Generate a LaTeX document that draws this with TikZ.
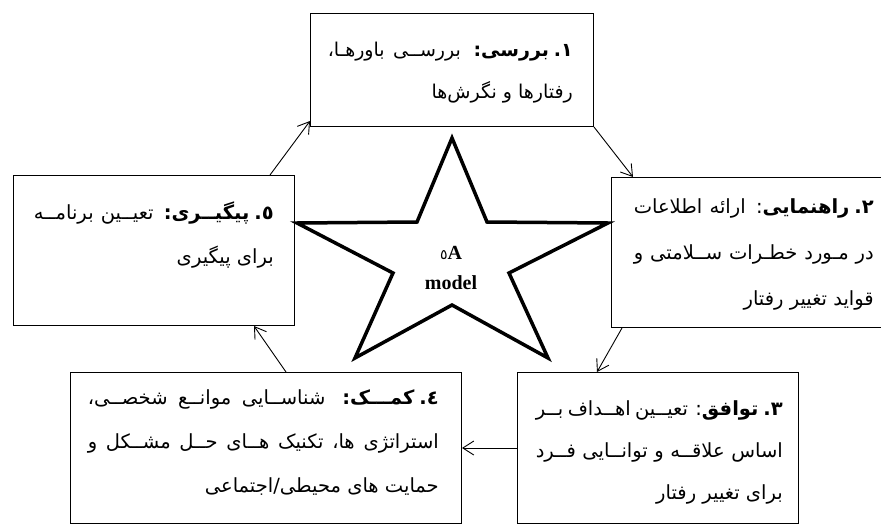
\documentclass[tikz,border=0pt]{standalone}
\usepackage{fontspec}
\setmainfont{Liberation Serif}
\newfontfamily\fa[Script=Arabic]{DejaVu Sans}
\TeXXeTstate=1
\usetikzlibrary{arrows.meta,calc}
\begin{document}
\begin{tikzpicture}[x=1pt,y=-1pt,
  box/.style={draw, line width=1pt, inner sep=0pt, anchor=north west},
  txt/.style={inner sep=0pt, align=right, font=\fa\fontsize{19.5}{44}\selectfont, anchor=base east},
  arr/.style={-{Straight Barb[length=11pt,width=14pt]}, line width=0.9pt},
  starline/.style={line width=3.5pt, line join=miter},
]
\useasboundingbox (0,0) rectangle (881,525);

% boxes
\node[box, minimum width=283, minimum height=113] (b1) at (310,13) {};
\node[box, minimum width=282, minimum height=150] (b2) at (611,177) {};
\node[box, minimum width=281, minimum height=151] (b3) at (517,372) {};
\node[box, minimum width=391, minimum height=151] (b4) at (70,372) {};
\node[box, minimum width=281, minimum height=150] (b5) at (13,175) {};

% texts (anchor = baseline of last line)
\node[txt, font=\fa\fontsize{19}{42}\selectfont] (t1) at ($(b1.north east)+(-21,85)$) {%
\makebox[245pt][s]{\beginR{\bfseries ١.\kern5pt بررسی:} بررســی باورهـا،\endR}\\
\beginR رفتارها و نگرش‌ها\endR};
\node[txt, font=\fa\fontsize{19.5}{46}\selectfont] (t2) at ($(b2.north east)+(-20,128)$) {%
\makebox[240pt][s]{\beginR{\bfseries ٢.\kern5pt راهنمایی}: ارائه اطلاعات\endR}\\
\makebox[240pt][s]{\beginR در مـورد خطـرات ســلامتی و\endR}\\
\beginR قواید تغییر رفتار\endR};
\node[txt, font=\fa\fontsize{19.5}{42}\selectfont] (t3) at ($(b3.north east)+(-16,127)$) {%
\makebox[247pt][s]{\beginR{\bfseries ٣.\kern5pt توافق}: تعیــین اهــداف بــر\endR}\\
\makebox[247pt][s]{\beginR اساس علاقــه و توانــایی فــرد\endR}\\
\beginR برای تغییر رفتار\endR};
\node[txt] (t4) at ($(b4.north east)+(-23,120)$) {%
\makebox[351pt][s]{\beginR{\bfseries ٤.\kern5pt کمـــک:} شناســایی موانــع شخصــی،\endR}\\
\makebox[351pt][s]{\beginR استراتژی ها، تکنیک هــای حــل مشــکل و\endR}\\
\beginR حمایت های محیطی/اجتماعی\endR};
\node[txt] (t5) at ($(b5.north east)+(-21,88)$) {%
\makebox[240pt][s]{\beginR{\bfseries ٥.\kern5pt پیگیــری:} تعیــین برنامــه\endR}\\
\beginR برای پیگیری\endR};

% star
\draw[starline] (452,138) -- (487,222) -- (608,223) -- (509,273) -- (548,358)
  -- (452,305) -- (355,358) -- (393,273) -- (297,223) -- (417,222) -- cycle;
\node[font=\bfseries\fontsize{20}{30}\selectfont, align=center] (m) at (451,268)
  {{\fa\mdseries\fontsize{14}{14}\selectfont ٥}A\\model};

% connectors
\draw[arr] ($(b5.north west)+(257,0)$) -- ($(b1.south west)+(0,-6)$);
\draw[arr] (b1.south east) -- ($(b2.north west)+(22,0)$);
\draw[arr] ($(b2.south west)+(11,0)$) -- ($(b3.north west)+(80,0)$);
\draw[arr] (b3.west) -- (b4.east);
\draw[arr] ($(b4.north west)+(216,0)$) -- ($(b5.south west)+(241,0)$);
\end{tikzpicture}
\end{document}
